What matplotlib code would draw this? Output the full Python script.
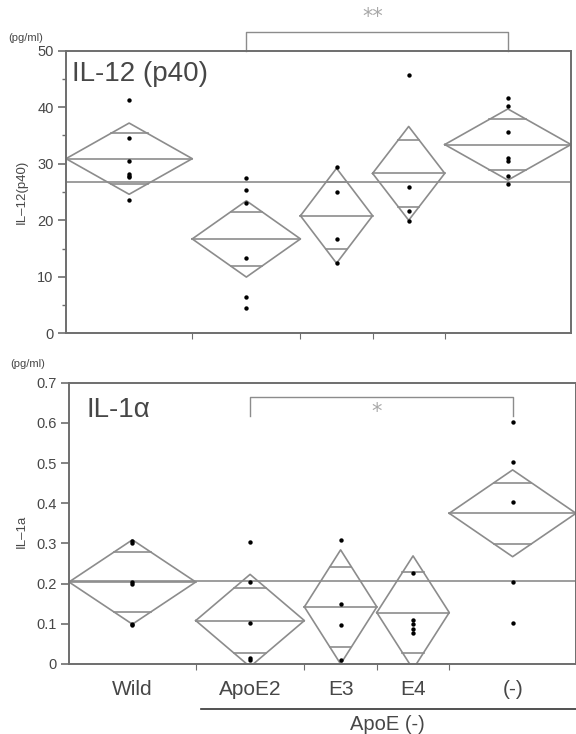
import numpy as np
import matplotlib
matplotlib.use("Agg")
import matplotlib.pyplot as plt
from matplotlib.ticker import FixedLocator, FuncFormatter

plt.rcParams["font.family"] = ["Liberation Sans", "DejaVu Sans"]

groups = ["Wild", "ApoE2", "E3", "E4", "(-)"]
group_n = [7, 6, 4, 4, 7]

il12_mean = [30.9, 16.7, 20.8, 28.3, 33.4]
il12_ci = [6.3, 6.75, 8.4, 8.3, 6.3]
il12_grand = 26.8
il12_points = [
    [41.2, 34.5, 30.5, 28.2, 27.9, 27.6, 23.5],
    [27.4, 25.3, 23.0, 13.3, 6.5, 4.5],
    [29.5, 25.0, 16.6, 12.4],
    [45.7, 25.9, 21.6, 19.8],
    [41.6, 40.3, 35.6, 31.1, 30.5, 27.9, 26.5],
]

il1a_mean = [0.204, 0.108, 0.142, 0.128, 0.375]
il1a_ci = [0.105, 0.115, 0.142, 0.141, 0.108]
il1a_grand = 0.206
il1a_points = [
    [0.305, 0.300, 0.203, 0.200, 0.100, 0.098],
    [0.303, 0.203, 0.101, 0.015, 0.009],
    [0.308, 0.149, 0.096, 0.010],
    [0.227, 0.110, 0.100, 0.088, 0.077],
    [0.603, 0.503, 0.403, 0.204, 0.103],
]

LINE = "#8c8c8c"
SPINE = "#6e6e6e"
TEXT = "#474747"

edges = np.concatenate([[0], np.cumsum(group_n)])
centers = (edges[:-1] + edges[1:]) / 2


def draw_diamonds(ax, means, cis, grand, points):
    ax.axhline(grand, color=LINE, lw=1.2, zorder=1)
    for i in range(len(groups)):
        left, right, c = edges[i], edges[i + 1], centers[i]
        m, h = means[i], cis[i]
        half = (right - left) / 2
        ax.plot([left, c, right, c, left], [m, m + h, m, m - h, m], color=LINE, lw=1.2, zorder=2)
        ax.plot([left, right], [m, m], color=LINE, lw=1.2, zorder=2)
        off = h / np.sqrt(2)
        w = half * (1 - 1 / np.sqrt(2))
        for y in (m + off, m - off):
            ax.plot([c - w, c + w], [y, y], color=LINE, lw=1.2, zorder=2)
        ax.scatter([c] * len(points[i]), points[i], s=10, color="black", zorder=3, linewidths=0)


def style_axis(ax):
    for sp in ax.spines.values():
        sp.set_color(SPINE)
        sp.set_linewidth(1.4)
    ax.set_xlim(0, edges[-1])
    ax.xaxis.set_major_locator(FixedLocator(edges[1:-1]))
    ax.tick_params(axis="x", direction="out", length=4, color=SPINE, labelbottom=False)
    ax.tick_params(axis="y", direction="out", length=5.5, color=SPINE, labelsize=10.5,
                   labelcolor=TEXT, width=1.2)


fig = plt.figure(figsize=(5.76, 7.34), dpi=100)
ax1 = fig.add_axes([0.1146, 0.5459, 0.8767, 0.385])
ax2 = fig.add_axes([0.1198, 0.0954, 0.8802, 0.3832])

# IL-12 (p40)
draw_diamonds(ax1, il12_mean, il12_ci, il12_grand, il12_points)
style_axis(ax1)
ax1.set_ylim(0, 50)
ax1.yaxis.set_major_locator(FixedLocator([0, 10, 20, 30, 40, 50]))
ax1.yaxis.set_minor_locator(FixedLocator([5, 15, 25, 35, 45]))
ax1.tick_params(axis="y", which="minor", direction="out", length=3, color=SPINE, width=1.0)
ax1.text(0.012, 0.917, "IL-12 (p40)", transform=ax1.transAxes, fontsize=20,
         color=TEXT, va="center", ha="left")
ax1.plot([centers[1], centers[1], centers[4], centers[4]], [50, 53.3, 53.3, 50],
         color=LINE, lw=1.0, clip_on=False)
ax1.text(17.0, 55.9, "**", fontsize=15, color="#a8a8a8", ha="center", va="center",
         family="DejaVu Sans")

# IL-1a
draw_diamonds(ax2, il1a_mean, il1a_ci, il1a_grand, il1a_points)
style_axis(ax2)
ax2.set_ylim(0, 0.7)
ax2.yaxis.set_major_locator(FixedLocator([0, 0.1, 0.2, 0.3, 0.4, 0.5, 0.6, 0.7]))
ax2.yaxis.set_major_formatter(FuncFormatter(lambda v, p: "0" if v == 0 else f"{v:.1f}"))
ax2.text(0.034, 0.903, "IL-1α", transform=ax2.transAxes, fontsize=20,
         color=TEXT, va="center", ha="left")
ax2.plot([centers[1], centers[1], centers[4], centers[4]], [0.618, 0.664, 0.664, 0.618],
         color=LINE, lw=1.0)
ax2.text(17.0, 0.626, "*", fontsize=15, color="#a8a8a8", ha="center", va="center",
         family="DejaVu Sans")

xform = ax2.get_xaxis_transform()
for name, c in zip(groups, centers):
    ax2.text(c, -0.092, name, transform=xform, fontsize=15, color=TEXT,
             ha="center", va="center")
ax2.plot([7.3, 28.5], [-0.16, -0.16], transform=xform, color="#333333", lw=1.2, clip_on=False)
ax2.text(17.6, -0.214, "ApoE (-)", transform=xform, fontsize=14.5, color=TEXT,
         ha="center", va="center")

fig.text(22 / 576, 1 - 192 / 734, "IL–12(p40)", rotation=90, fontsize=9.5, color=TEXT,
         ha="center", va="center")
fig.text(22 / 576, 1 - 531 / 734, "IL–1a", rotation=90, fontsize=9.5, color=TEXT,
         ha="center", va="center")
fig.text(8 / 576, 1 - 38 / 734, "(pg/ml)", fontsize=8, color=TEXT, ha="left", va="center")
fig.text(10 / 576, 1 - 364 / 734, "(pg/ml)", fontsize=8, color=TEXT, ha="left", va="center")

fig.savefig("out.png", dpi=100, facecolor="white")
